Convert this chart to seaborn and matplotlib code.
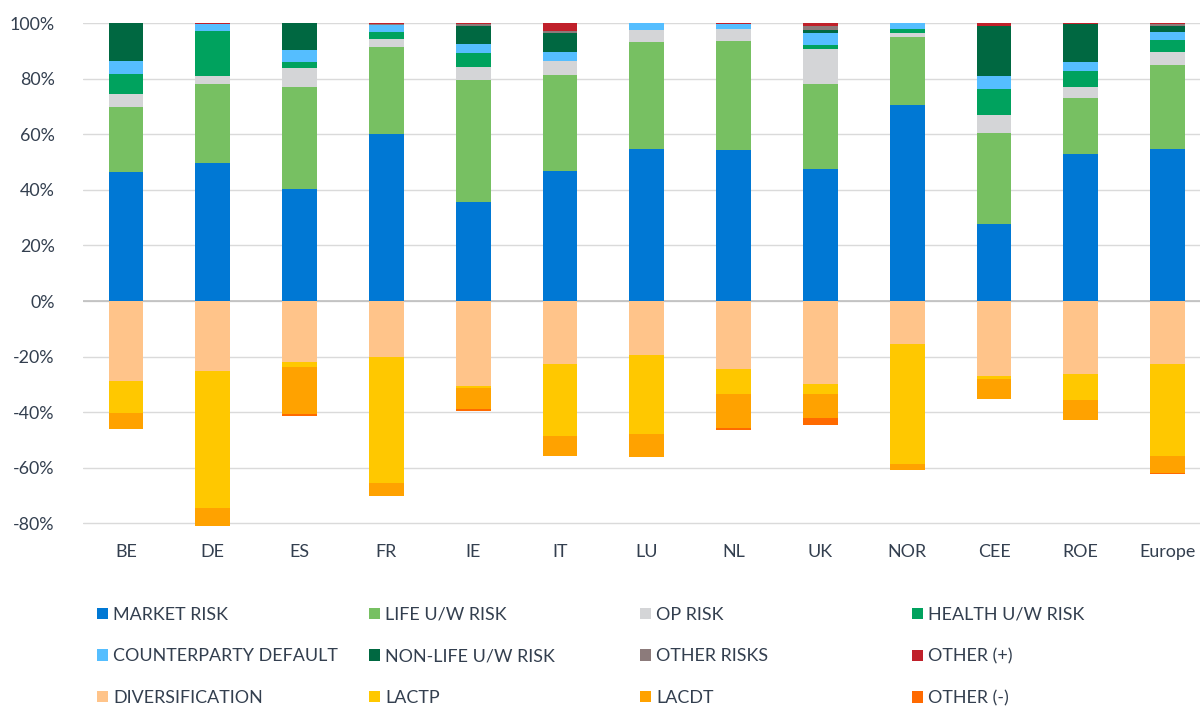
import numpy as np
import pandas as pd
import matplotlib
matplotlib.use("Agg")
import matplotlib.pyplot as plt
from matplotlib.patches import Patch
from matplotlib.ticker import FuncFormatter
import seaborn as sns

categories = ["BE", "DE", "ES", "FR", "IE", "IT", "LU", "NL", "UK", "NOR", "CEE", "ROE", "Europe"]

# positive components, bottom to top (% of total)
market_risk = [46.3, 49.6, 40.2, 60.2, 35.7, 46.8, 54.8, 54.4, 47.5, 70.5, 27.6, 53.0, 54.8]
life_uw_risk = [23.6, 28.6, 36.9, 31.2, 43.9, 34.6, 38.4, 39.1, 30.7, 24.4, 32.8, 20.0, 30.2]
op_risk = [4.6, 2.6, 6.8, 2.8, 4.6, 4.8, 4.4, 4.2, 12.4, 1.5, 6.4, 4.1, 4.4]
health_uw_risk = [7.3, 16.3, 1.9, 2.7, 4.9, 0.0, 0.0, 0.0, 1.4, 1.5, 9.5, 5.6, 4.6]
counterparty_default = [4.5, 2.5, 4.5, 2.4, 3.3, 3.2, 2.4, 1.9, 4.5, 2.1, 4.5, 3.4, 2.9]
non_life_uw_risk = [13.7, 0.0, 9.7, 0.0, 6.6, 7.0, 0.0, 0.0, 1.1, 0.0, 18.2, 13.5, 2.1]
other_risks = [0.0, 0.2, 0.0, 0.4, 0.7, 0.7, 0.0, 0.0, 1.3, 0.0, 0.0, 0.0, 0.5]
other_plus = [0.0, 0.2, 0.0, 0.3, 0.3, 2.9, 0.0, 0.4, 1.1, 0.0, 1.0, 0.4, 0.5]

# negative components, top to bottom
diversification = [-28.9, -25.2, -21.8, -20.1, -30.5, -22.5, -19.3, -24.3, -29.7, -15.4, -26.9, -26.1, -22.5]
lactp = [-11.3, -49.1, -1.8, -45.2, -0.7, -25.9, -28.7, -9.2, -3.6, -43.4, -1.0, -9.6, -33.1]
lacdt = [-5.8, -6.5, -17.0, -5.0, -7.8, -7.5, -8.0, -12.1, -8.8, -2.1, -7.5, -7.0, -6.1]
other_minus = [0.0, 0.0, -0.6, 0.0, -0.4, 0.0, 0.0, -0.7, -2.4, 0.0, 0.0, 0.0, -0.5]

pos_labels = ["MARKET RISK", "LIFE U/W RISK", "OP RISK", "HEALTH U/W RISK",
              "COUNTERPARTY DEFAULT", "NON-LIFE U/W RISK", "OTHER RISKS", "OTHER (+)"]
pos_series = [market_risk, life_uw_risk, op_risk, health_uw_risk,
              counterparty_default, non_life_uw_risk, other_risks, other_plus]
pos_colors = ["#0078D4", "#77C062", "#D4D5D7", "#00A25E",
              "#55BEFF", "#006841", "#8C7B7B", "#C0202A"]

neg_labels = ["DIVERSIFICATION", "LACTP", "LACDT", "OTHER (-)"]
neg_series = [diversification, lactp, lacdt, other_minus]
neg_colors = ["#FFC48A", "#FFC800", "#FFA200", "#FF6A00"]

sns.set_theme(style="white")
plt.rcParams["font.family"] = ["Lato", "DejaVu Sans"]
text_color = "#333F4F"
fs = 12.9

fig = plt.figure(figsize=(12, 7.06), dpi=100)
ax = fig.add_axes([82.6 / 1200, 0.2547, 1128.4 / 1200, 0.7127])

# stacked bars drawn as overlapping cumulative totals (largest first)
pos_cum = np.cumsum(np.array(pos_series), axis=0)
for i in range(len(pos_series) - 1, -1, -1):
    df = pd.DataFrame({"cat": categories, "val": pos_cum[i]})
    sns.barplot(data=df, x="cat", y="val", color=pos_colors[i], saturation=1,
                width=0.4, linewidth=0, ax=ax, zorder=3)

neg_cum = np.cumsum(np.array(neg_series), axis=0)
for i in range(len(neg_series) - 1, -1, -1):
    df = pd.DataFrame({"cat": categories, "val": neg_cum[i]})
    sns.barplot(data=df, x="cat", y="val", color=neg_colors[i], saturation=1,
                width=0.4, linewidth=0, ax=ax, zorder=3)

ax.set_xlim(-0.5, len(categories) - 0.5)
ax.set_ylim(-81, 100)
ax.set_yticks(np.arange(-80, 101, 20))
ax.yaxis.set_major_formatter(FuncFormatter(lambda v, p: f"{v:.0f}%"))
ax.set_xlabel("")
ax.set_ylabel("")
ax.grid(axis="y", color="#DADADA", linewidth=1, zorder=0)
ax.axhline(0, color="#BFBFBF", linewidth=1.2, zorder=2)
for s in ax.spines.values():
    s.set_visible(False)
ax.tick_params(axis="x", length=0, pad=13, labelsize=fs, labelcolor=text_color)
ax.tick_params(axis="y", length=0, pad=20, labelsize=fs, labelcolor=text_color)

# legend laid out as 4 fixed columns, filled row by row
all_labels = pos_labels + neg_labels
all_colors = pos_colors + neg_colors
col_x = [97, 369, 640, 912]
for c in range(4):
    idx = [c, c + 4, c + 8]
    handles = [Patch(facecolor=all_colors[k], edgecolor="none") for k in idx]
    leg = fig.legend(handles, [all_labels[k] for k in idx], loc="upper left",
                     bbox_to_anchor=(col_x[c] / 1200, (706 - 607) / 706),
                     frameon=False, fontsize=fs, handlelength=0.6, handleheight=0.6,
                     handletextpad=0.3, labelspacing=1.42, borderpad=0, borderaxespad=0)
    for t in leg.get_texts():
        t.set_color(text_color)

fig.savefig("out.png", dpi=100)
